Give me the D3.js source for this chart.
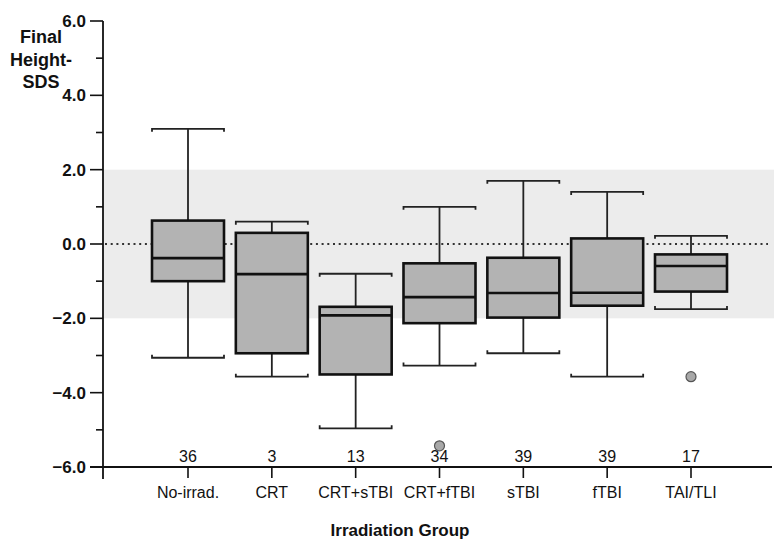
<!DOCTYPE html>
<html>
<head>
<meta charset="utf-8">
<script src="https://cdn.jsdelivr.net/npm/d3@7"></script>
<style>
  body { margin: 0; background: #fff; }
  svg { display: block; font-family: "Liberation Sans", Arial, sans-serif; }
</style>
</head>
<body>
<div id="chart"></div>
<script>
// groups and box statistics (Final Height-SDS)
let categories = ["No-irrad.", "CRT", "CRT+sTBI", "CRT+fTBI", "sTBI", "fTBI", "TAI/TLI"];
let counts = [36, 3, 13, 34, 39, 39, 17];
let whiskerHigh = [3.1, 0.6, -0.8, 1.0, 1.7, 1.4, 0.22];
let q3 = [0.63, 0.30, -1.69, -0.52, -0.37, 0.15, -0.28];
let median = [-0.38, -0.81, -1.92, -1.43, -1.32, -1.31, -0.59];
let q1 = [-1.0, -2.94, -3.51, -2.13, -1.98, -1.66, -1.28];
let whiskerLow = [-3.06, -3.57, -4.96, -3.27, -2.94, -3.57, -1.75];
let outlierGroups = ["CRT+fTBI", "TAI/TLI"];
let outlierValues = [-5.43, -3.57];
let yTicks = [-6, -4, -2, 0, 2, 4, 6];
let yMinorTicks = [-5, -3, -1, 1, 3, 5];
let normalBand = [-2, 2];

let width = 774, height = 540;
let axisX = 103;

let svg = d3.select("#chart")
    .append("svg")
    .attr("width", width)
    .attr("height", height);

let x = d3.scalePoint()
    .domain(categories)
    .range([188, 691]);
let y = d3.scaleLinear()
    .domain([-6, 6])
    .range([467, 21]);

let boxW = 72;

// grey normal range band
svg.append("rect")
    .attr("x", axisX)
    .attr("y", y(normalBand[1]))
    .attr("width", width - axisX)
    .attr("height", y(normalBand[0]) - y(normalBand[1]))
    .style("fill", "#ececec");

// dotted zero line
svg.append("line")
    .attr("x1", axisX + 2)
    .attr("x2", 768)
    .attr("y1", y(0))
    .attr("y2", y(0))
    .style("stroke", "#333")
    .style("stroke-width", 2)
    .style("stroke-dasharray", "2,3.7");

// box data
let boxes = categories.map(function(c, i) {
    return { cat: c, hi: whiskerHigh[i], q3: q3[i], med: median[i], q1: q1[i], lo: whiskerLow[i] };
});

let g = svg.selectAll(".box")
    .data(boxes)
    .enter()
    .append("g")
    .attr("class", "box")
    .attr("transform", function(d) { return "translate(" + x(d.cat) + ",0)"; });

// whisker stems
g.append("line")
    .attr("y1", function(d) { return y(d.hi); })
    .attr("y2", function(d) { return y(d.q3); })
    .style("stroke", "#222").style("stroke-width", 1.8);
g.append("line")
    .attr("y1", function(d) { return y(d.q1); })
    .attr("y2", function(d) { return y(d.lo); })
    .style("stroke", "#222").style("stroke-width", 1.8);

// caps with small hooks
g.append("path")
    .attr("d", function(d) {
        let yy = y(d.hi);
        return "M" + (-boxW / 2) + "," + (yy + 3) + "V" + yy + "H" + (boxW / 2) + "V" + (yy + 3);
    })
    .style("fill", "none").style("stroke", "#222").style("stroke-width", 1.8);
g.append("path")
    .attr("d", function(d) {
        let yy = y(d.lo);
        return "M" + (-boxW / 2) + "," + (yy - 3) + "V" + yy + "H" + (boxW / 2) + "V" + (yy - 3);
    })
    .style("fill", "none").style("stroke", "#222").style("stroke-width", 1.8);

// boxes
g.append("rect")
    .attr("x", -boxW / 2)
    .attr("y", function(d) { return y(d.q3); })
    .attr("width", boxW)
    .attr("height", function(d) { return y(d.q1) - y(d.q3); })
    .style("fill", "#b3b3b3")
    .style("stroke", "#111")
    .style("stroke-width", 2.6);

// medians
g.append("line")
    .attr("x1", -boxW / 2)
    .attr("x2", boxW / 2)
    .attr("y1", function(d) { return y(d.med); })
    .attr("y2", function(d) { return y(d.med); })
    .style("stroke", "#111").style("stroke-width", 2.6);

// count labels
svg.selectAll(".count")
    .data(categories)
    .enter()
    .append("text")
    .attr("class", "count")
    .attr("x", function(d) { return x(d); })
    .attr("y", 462)
    .attr("text-anchor", "middle")
    .style("font-size", "16px")
    .style("fill", "#111")
    .text(function(d, i) { return counts[i]; });

// outliers
svg.selectAll(".outlier")
    .data(outlierValues)
    .enter()
    .append("circle")
    .attr("class", "outlier")
    .attr("cx", function(d, i) { return x(outlierGroups[i]); })
    .attr("cy", function(d) { return y(d); })
    .attr("r", 5)
    .style("fill", "#a8a8a8")
    .style("stroke", "#555")
    .style("stroke-width", 1.2);

// y axis
svg.append("line")
    .attr("x1", axisX).attr("x2", axisX)
    .attr("y1", y(6)).attr("y2", 479)
    .style("stroke", "#111").style("stroke-width", 1.8);
svg.selectAll(".ytick")
    .data(yTicks)
    .enter()
    .append("line")
    .attr("x1", 90).attr("x2", axisX)
    .attr("y1", function(d) { return y(d); })
    .attr("y2", function(d) { return y(d); })
    .style("stroke", "#111").style("stroke-width", 1.6);
svg.selectAll(".yminor")
    .data(yMinorTicks)
    .enter()
    .append("line")
    .attr("x1", 96).attr("x2", axisX)
    .attr("y1", function(d) { return y(d); })
    .attr("y2", function(d) { return y(d); })
    .style("stroke", "#111").style("stroke-width", 1.6);
svg.selectAll(".ylabel")
    .data(yTicks)
    .enter()
    .append("text")
    .attr("x", 86)
    .attr("y", function(d) { return y(d) + 6; })
    .attr("text-anchor", "end")
    .attr("font-weight", "bold")
    .style("font-size", "17px")
    .style("fill", "#111")
    .text(function(d) { return d3.format(".1f")(d); });

// x axis
svg.append("line")
    .attr("x1", 90).attr("x2", 772)
    .attr("y1", y(-6)).attr("y2", y(-6))
    .style("stroke", "#111").style("stroke-width", 1.8);
svg.selectAll(".xtick")
    .data(categories)
    .enter()
    .append("line")
    .attr("x1", function(d) { return x(d); })
    .attr("x2", function(d) { return x(d); })
    .attr("y1", y(-6))
    .attr("y2", 478)
    .style("stroke", "#111").style("stroke-width", 1.6);
svg.selectAll(".xlabel")
    .data(categories)
    .enter()
    .append("text")
    .attr("x", function(d) { return x(d); })
    .attr("y", 498)
    .attr("text-anchor", "middle")
    .style("font-size", "16px")
    .style("fill", "#111")
    .text(function(d) { return d; });

// axis titles
let yTitle = ["Final", "Height-", "SDS"];
svg.selectAll(".ytitle")
    .data(yTitle)
    .enter()
    .append("text")
    .attr("x", 41)
    .attr("y", function(d, i) { return 43 + i * 22.5; })
    .attr("text-anchor", "middle")
    .attr("font-weight", "bold")
    .style("font-size", "18px")
    .style("fill", "#111")
    .text(function(d) { return d; });

svg.append("text")
    .attr("x", 400)
    .attr("y", 536)
    .attr("text-anchor", "middle")
    .attr("font-weight", "bold")
    .style("font-size", "17px")
    .style("fill", "#111")
    .text("Irradiation Group");
</script>
</body>
</html>
